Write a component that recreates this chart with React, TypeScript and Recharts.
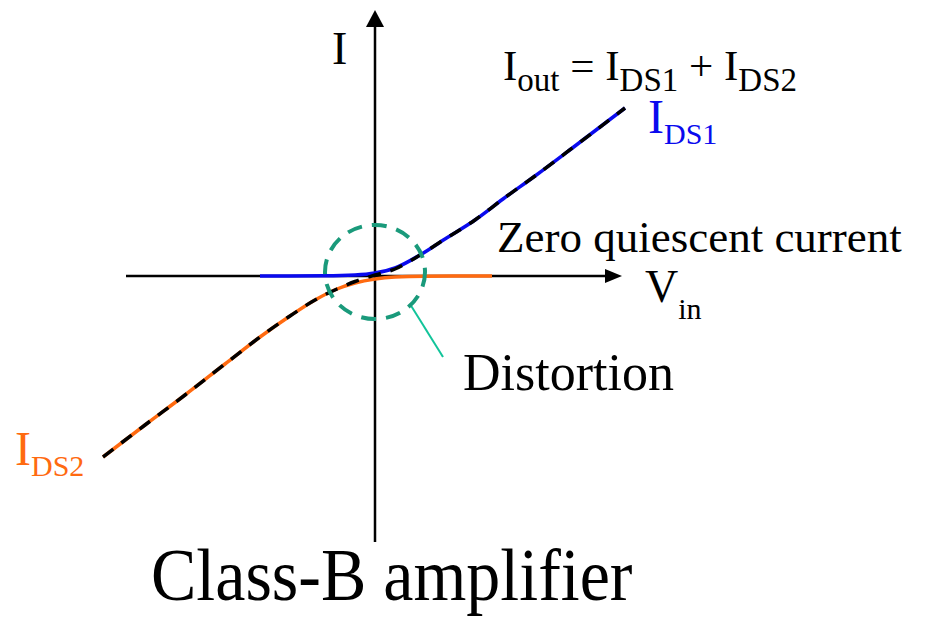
import { LineChart, Line, XAxis, YAxis, ReferenceLine, ReferenceDot } from 'recharts'

const ids1Vin = [-1.15, -0.5, -0.2, 0, 0.2, 0.45, 0.7, 1.0, 1.28, 1.6, 2.0, 2.5]
const ids1I = [0, 0.002, 0.01, 0.03, 0.08, 0.21, 0.37, 0.56, 0.77, 1.0, 1.3, 1.68]

const ids2Vin = [-2.72, -2.3, -1.9, -1.5, -1.15, -0.85, -0.6, -0.38, -0.2, 0, 0.2, 0.5, 1.17]
const ids2I = [-1.81, -1.49, -1.19, -0.88, -0.61, -0.4, -0.24, -0.13, -0.07, -0.03, -0.01, -0.002, 0]

const outVin = [-2.72, -2.3, -1.9, -1.5, -1.15, -0.85, -0.6, -0.38, -0.2, 0, 0.2, 0.45, 0.7, 1.0, 1.28, 1.6, 2.0, 2.5]
const outI = [-1.81, -1.49, -1.19, -0.88, -0.61, -0.4, -0.24, -0.13, -0.055, 0.01, 0.07, 0.21, 0.37, 0.56, 0.77, 1.0, 1.3, 1.68]

const W = 926
const H = 617
const X_DOMAIN: [number, number] = [-3.75, 5.51]
const Y_DOMAIN: [number, number] = [-3.41, 2.76]

const toPoints = (xs: number[], ys: number[]) => xs.map((v, k) => ({ v, i: ys[k] }))

const ids1 = toPoints(ids1Vin, ids1I)
const ids2 = toPoints(ids2Vin, ids2I)
const iout = toPoints(outVin, outI)

const serif = "'Liberation Serif', 'Times New Roman', Times, serif"

const ArrowRight = (p: any) => (
  <polygon points={`${p.cx},${p.cy} ${p.cx - 17},${p.cy - 7} ${p.cx - 17},${p.cy + 7}`} fill="#000" />
)
const ArrowUp = (p: any) => (
  <polygon points={`${p.cx},${p.cy} ${p.cx - 9},${p.cy + 17} ${p.cx + 9},${p.cy + 17}`} fill="#000" />
)
const DistortionRing = (p: any) => (
  <ellipse cx={p.cx} cy={p.cy} rx={50} ry={47} fill="none" stroke="#1a9a7b"
    strokeWidth={4} strokeDasharray="15 10" />
)

export default function App() {
  return (
    <div style={{ position: 'absolute', left: 0, top: 0, width: W, height: H, background: '#fff' }}>
      <LineChart width={W} height={H} margin={{ top: 0, right: 0, bottom: 0, left: 0 }}>
        <XAxis type="number" dataKey="v" domain={X_DOMAIN} hide allowDataOverflow />
        <YAxis type="number" dataKey="i" domain={Y_DOMAIN} hide allowDataOverflow />
        <ReferenceLine segment={[{ x: -2.49, y: 0 }, { x: 2.32, y: 0 }]} stroke="#000" strokeWidth={2.5} />
        <ReferenceLine segment={[{ x: 0, y: -2.66 }, { x: 0, y: 2.56 }]} stroke="#000" strokeWidth={2.5} />
        <ReferenceDot x={2.47} y={0} r={1} shape={ArrowRight} />
        <ReferenceDot x={0} y={2.66} r={1} shape={ArrowUp} />
        <Line data={ids1} dataKey="i" type="monotone" stroke="#0a0aee" strokeWidth={3.5}
          dot={false} activeDot={false} isAnimationActive={false} />
        <Line data={ids2} dataKey="i" type="monotone" stroke="#ff6a10" strokeWidth={3.5}
          dot={false} activeDot={false} isAnimationActive={false} />
        <Line data={iout} dataKey="i" type="monotone" stroke="#000" strokeWidth={3.5}
          strokeDasharray="13 10" dot={false} activeDot={false} isAnimationActive={false} />
        <ReferenceDot x={0} y={0.04} r={1} shape={DistortionRing} />
        <ReferenceLine segment={[{ x: 0.35, y: -0.28 }, { x: 0.68, y: -0.81 }]} stroke="#12c49a" strokeWidth={2} />
      </LineChart>

      <svg width={W} height={H} style={{ position: 'absolute', left: 0, top: 0, pointerEvents: 'none', fontFamily: serif }}>
        <text x={332} y={64} fontSize={46}>I</text>
        <text x={503} y={80} fontSize={43}>
          I<tspan fontSize={33} dy={11}>out</tspan>
          <tspan dy={-11}> = I</tspan><tspan fontSize={33} dy={11}>DS1</tspan>
          <tspan dy={-11}> + I</tspan><tspan fontSize={33} dy={11}>DS2</tspan>
        </text>
        <text x={648} y={133} fontSize={48} fill="#0a0aee">
          I<tspan fontSize={30} dy={11}>DS1</tspan>
        </text>
        <text x={15} y={465} fontSize={48} fill="#ff6a10">
          I<tspan fontSize={30} dy={11}>DS2</tspan>
        </text>
        <text x={645} y={302} fontSize={46}>
          V<tspan fontSize={30} dy={17}>in</tspan>
        </text>
        <text x={497} y={252} fontSize={45}>Zero quiescent current</text>
        <text x={463} y={390} fontSize={52}>Distortion</text>
        <text x={151} y={600} fontSize={68} transform="translate(0 600) scale(1 1.1) translate(0 -600)">
          Class-B amplifier
        </text>
      </svg>
    </div>
  )
}
